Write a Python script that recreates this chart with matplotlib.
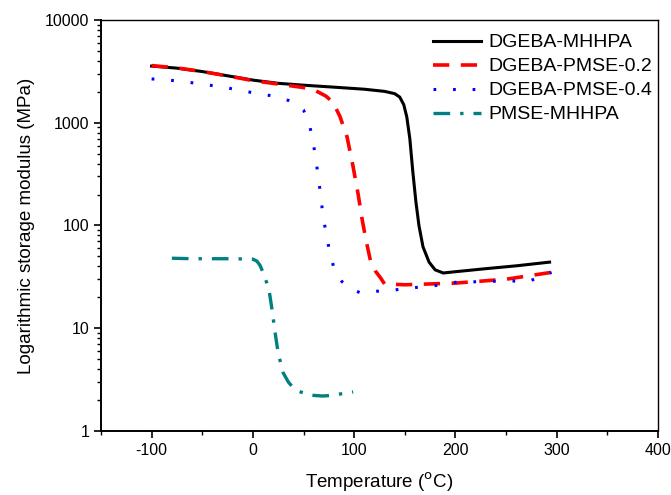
import numpy as np
import matplotlib
matplotlib.use("Agg")
import matplotlib.pyplot as plt
from matplotlib.ticker import LogLocator, NullFormatter, MultipleLocator

plt.rcParams['font.family'] = ['Liberation Sans', 'DejaVu Sans']
plt.rcParams['axes.unicode_minus'] = False

# DGEBA-MHHPA
t_mhhpa = [-100, -75, -50, -20, 0, 25, 50, 80, 110, 130, 140, 145, 149, 152, 155, 158, 161, 164, 168, 174, 180, 188, 200, 230, 260, 293]
e_mhhpa = [3560, 3400, 3150, 2810, 2600, 2420, 2320, 2220, 2120, 2020, 1920, 1780, 1500, 1140, 700, 330, 170, 100, 62, 44, 37, 34.5, 35.5, 38, 40.5, 44]

# DGEBA-PMSE-0.2
t_p02 = [-100, -75, -50, -20, 0, 25, 50, 62, 72, 79, 86, 93, 99, 104, 108, 112, 116, 121, 126, 130, 150, 200, 250, 295]
e_p02 = [3600, 3420, 3150, 2800, 2570, 2380, 2200, 2050, 1820, 1590, 1150, 728, 372, 200, 113, 70, 46, 36, 31, 27, 26.5, 27.5, 30, 35]

# DGEBA-PMSE-0.4
t_p04 = [-100, -75, -50, -25, 0, 20, 35, 45, 50, 56, 59, 62, 64, 66, 68, 70, 73, 76, 80, 88, 97, 107, 122, 137, 155, 180, 200, 230, 255, 270, 295]
e_p04 = [2670, 2560, 2380, 2180, 1960, 1820, 1650, 1450, 1330, 952, 680, 464, 325, 232, 158, 113, 77, 55, 38.6, 28.4, 24, 22, 22.9, 23.4, 24.6, 26, 28, 28.5, 29, 28, 35]

# PMSE-MHHPA
t_pmse = [-80, -60, -40, -20, 0, 4, 7, 10, 13, 16, 19, 22, 25, 30, 35, 40, 46, 53, 60, 69, 78, 86, 92, 99]
e_pmse = [48, 47.5, 47.5, 47.5, 47, 45, 41, 35, 29, 23.4, 15, 9.0, 5.7, 3.67, 3.0, 2.62, 2.42, 2.29, 2.22, 2.19, 2.22, 2.29, 2.33, 2.40]

fig = plt.figure(figsize=(6.71, 4.95), dpi=100)
ax = fig.add_axes([0.1505, 0.1293, 0.83, 0.8303])

ax.plot(t_mhhpa, e_mhhpa, color='black', lw=2.2, ls='-', label='DGEBA-MHHPA')
ax.plot(t_p02, e_p02, color='red', lw=2.6, ls=(0, (4.5, 3.2)), label='DGEBA-PMSE-0.2')
ax.plot(t_p04, e_p04, color='blue', lw=2.2, ls=(0, (0.9, 5.5)), label='DGEBA-PMSE-0.4')
ax.plot(t_pmse, e_pmse, color='#008080', lw=2.4, ls=(0, (5, 3, 1, 3)), label='PMSE-MHHPA')

ax.set_yscale('log')
ax.set_xlim(-150, 400)
ax.set_ylim(1, 10000)
ax.xaxis.set_major_locator(MultipleLocator(100))
ax.xaxis.set_minor_locator(MultipleLocator(50))
ax.yaxis.set_major_locator(LogLocator(base=10, numticks=10))
ax.yaxis.set_minor_locator(LogLocator(base=10, subs=np.arange(2, 10), numticks=10))
ax.yaxis.set_minor_formatter(NullFormatter())
ax.yaxis.set_major_formatter(matplotlib.ticker.FuncFormatter(lambda v, p: f"{v:g}" if v < 1e4 else "10000"))

ax.tick_params(which='major', direction='out', length=5, width=1.2, labelsize=11.5, top=False, right=False)
ax.tick_params(which='minor', direction='out', length=3, width=1.0, top=False, right=False)
for s in ['left', 'bottom']:
    ax.spines[s].set_linewidth(1.4)
for s in ['top', 'right']:
    ax.spines[s].set_linewidth(1.0)

ax.set_xlabel('Temperature ($^{\\mathrm{o}}$C)', fontsize=13.5, labelpad=9)
ax.set_ylabel('Logarithmic storage modulus (MPa)', fontsize=13.5, labelpad=7)

ax.legend(loc='upper right', bbox_to_anchor=(1.01, 0.995), frameon=False, fontsize=14,
          handlelength=2.5, handletextpad=0.35, labelspacing=0.33, borderaxespad=0.2)

fig.savefig('out.png', dpi=100)
